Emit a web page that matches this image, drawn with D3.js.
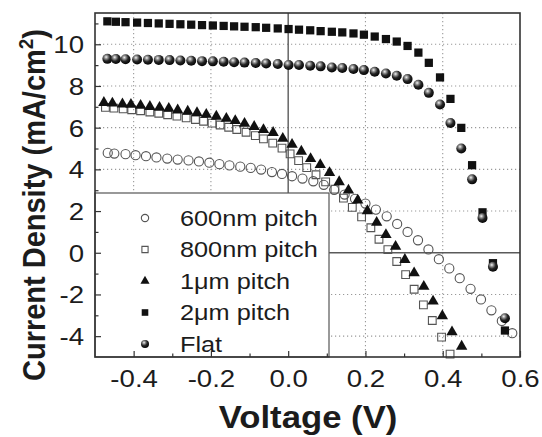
<!DOCTYPE html>
<html>
<head>
<meta charset="utf-8">
<script src="https://cdn.jsdelivr.net/npm/d3@7"></script>
<style>
body { margin: 0; background: #fff; }
text { font-family: "Liberation Sans", Arial, Helvetica, sans-serif; fill: #1c1c1c; }
</style>
</head>
<body>
<div id="chart"></div>
<script>
// voltage (V) and current density (mA/cm2), one pair per sample
var v600 = [-0.467,-0.450,-0.421,-0.395,-0.368,-0.341,-0.313,-0.286,-0.258,-0.231,
	-0.204,-0.178,-0.152,-0.124,-0.097,-0.070,-0.042,-0.016,0.010,0.037,
	0.065,0.092,0.119,0.146,0.173,0.200,0.227,0.255,0.282,0.309,
	0.336,0.363,0.390,0.417,0.444,0.472,0.499,0.526,0.553,0.580];
var j600 = [4.79,4.76,4.73,4.68,4.63,4.57,4.52,4.47,4.43,4.38,
	4.32,4.25,4.19,4.13,4.07,3.99,3.87,3.78,3.67,3.56,
	3.43,3.26,3.02,2.79,2.59,2.36,2.07,1.75,1.38,1.00,
	0.60,0.16,-0.31,-0.75,-1.22,-1.73,-2.24,-2.76,-3.27,-3.86];

var v800 = [-0.473,-0.451,-0.427,-0.405,-0.382,-0.358,-0.335,-0.312,-0.288,-0.264,
	-0.240,-0.219,-0.197,-0.176,-0.154,-0.133,-0.109,-0.085,-0.064,-0.040,
	-0.016,0.005,0.027,0.048,0.072,0.097,0.121,0.143,0.166,0.190,
	0.214,0.235,0.258,0.281,0.304,0.326,0.350,0.373,0.397,0.419];
var j800 = [6.97,6.94,6.90,6.86,6.81,6.75,6.69,6.62,6.55,6.47,
	6.39,6.31,6.22,6.13,6.02,5.91,5.78,5.62,5.46,5.26,
	5.02,4.74,4.42,4.08,3.74,3.40,3.05,2.62,2.18,1.72,
	1.20,0.65,0.15,-0.42,-1.05,-1.75,-2.50,-3.25,-4.05,-4.86];

var v1um = [-0.477,-0.455,-0.429,-0.407,-0.382,-0.358,-0.333,-0.309,-0.286,-0.260,
	-0.236,-0.212,-0.186,-0.160,-0.137,-0.113,-0.088,-0.064,-0.039,-0.014,
	0.010,0.034,0.058,0.083,0.107,0.132,0.156,0.180,0.205,0.229,
	0.253,0.278,0.302,0.326,0.351,0.375,0.399,0.424,0.449];
var j1um = [7.20,7.17,7.13,7.11,7.06,7.01,6.97,6.92,6.84,6.78,
	6.71,6.63,6.54,6.44,6.33,6.20,6.05,5.90,5.76,5.48,
	5.19,4.86,4.51,4.22,3.84,3.40,3.00,2.52,2.01,1.45,
	0.86,0.30,-0.33,-0.97,-1.62,-2.33,-3.03,-3.80,-4.49];

// 2um pitch and flat were swept on the same voltage steps
var vHigh = [-0.468,-0.446,-0.421,-0.391,-0.363,-0.335,-0.307,-0.279,-0.251,-0.223,
	-0.195,-0.167,-0.140,-0.113,-0.084,-0.057,-0.027,0.001,0.028,0.057,
	0.084,0.113,0.140,0.169,0.196,0.224,0.253,0.281,0.309,0.337,
	0.364,0.393,0.420,0.448,0.476,0.503,0.530,0.561];
var j2um = [11.10,11.08,11.06,11.04,11.02,11.00,10.98,10.96,10.94,10.92,
	10.90,10.88,10.86,10.84,10.82,10.79,10.76,10.73,10.70,10.67,
	10.63,10.60,10.57,10.52,10.46,10.37,10.25,10.13,9.92,9.60,
	9.11,8.41,7.38,5.99,4.20,1.94,-0.50,-3.73];
var jFlat = [9.30,9.29,9.28,9.27,9.26,9.25,9.24,9.22,9.21,9.19,
	9.18,9.16,9.14,9.12,9.10,9.08,9.05,9.01,9.01,8.97,
	8.94,8.89,8.86,8.81,8.76,8.68,8.60,8.49,8.33,8.06,
	7.67,7.11,6.22,5.00,3.52,1.67,-0.67,-3.14];

var seriesNames = ["600nm pitch", "800nm pitch", "1\u03bcm pitch", "2\u03bcm pitch", "Flat"];
var xMajor = [-0.4, -0.2, 0.0, 0.2, 0.4, 0.6],
	xMinor = [-0.3, -0.1, 0.1, 0.3, 0.5],
	yMajor = [-4, -2, 0, 2, 4, 6, 8, 10],
	yMinor = [-3, -1, 1, 3, 5, 7, 9, 11];

var W = 542, H = 437,
	pL = 95, pR = 520, pT = 13, pB = 357,
	stretch = 1.15;

var x = d3.scaleLinear().domain([-0.5, 0.6]).range([pL, pR]);
var y = d3.scaleLinear().domain([-5, 11.5]).range([pB, pT]);

var svg = d3.select("#chart").append("svg")
	.attr("width", W)
	.attr("height", H);

var defs = svg.append("defs");
var ball = defs.append("radialGradient")
	.attr("id", "ball")
	.attr("cx", "38%").attr("cy", "32%").attr("r", "65%");
ball.append("stop").attr("offset", "0%").attr("stop-color", "#f4f4f4");
ball.append("stop").attr("offset", "28%").attr("stop-color", "#8a8a8a");
ball.append("stop").attr("offset", "60%").attr("stop-color", "#262626");
ball.append("stop").attr("offset", "100%").attr("stop-color", "#080808");

// dotted grid
svg.append("g").selectAll("line")
	.data(xMajor.filter(function(d) { return d != 0 && d < 0.6; }))
	.enter().append("line")
	.attr("x1", function(d) { return x(d); }).attr("x2", function(d) { return x(d); })
	.attr("y1", pT).attr("y2", pB)
	.style("stroke", "#999").style("stroke-width", 1.1)
	.style("stroke-dasharray", "1.2,2.8");
svg.append("g").selectAll("line")
	.data(yMajor.filter(function(d) { return d != 0; }))
	.enter().append("line")
	.attr("x1", pL).attr("x2", pR)
	.attr("y1", function(d) { return y(d); }).attr("y2", function(d) { return y(d); })
	.style("stroke", "#999").style("stroke-width", 1.1)
	.style("stroke-dasharray", "1.2,2.8");

// zero lines
svg.append("line")
	.attr("x1", x(0)).attr("x2", x(0)).attr("y1", pT).attr("y2", pB)
	.style("stroke", "#5a5a5a").style("stroke-width", 1.4);
svg.append("line")
	.attr("x1", pL).attr("x2", pR).attr("y1", y(0)).attr("y2", y(0))
	.style("stroke", "#5a5a5a").style("stroke-width", 1.4);

function pairs(vs, js) {
	return vs.map(function(v, i) { return {v: v, j: js[i]}; });
}

var series = [
	{name: seriesNames[0], pts: pairs(v600, j600), shape: d3.symbolCircle, size: 66, fill: "none", stroke: "#555"},
	{name: seriesNames[1], pts: pairs(v800, j800), shape: d3.symbolSquare, size: 60, fill: "none", stroke: "#555"},
	{name: seriesNames[2], pts: pairs(v1um, j1um), shape: d3.symbolTriangle, size: 56, fill: "#111", stroke: "none"},
	{name: seriesNames[3], pts: pairs(vHigh, j2um), shape: d3.symbolSquare, size: 68, fill: "#111", stroke: "none"},
	{name: seriesNames[4], pts: pairs(vHigh, jFlat), shape: "ball", size: 5}
];

function drawMark(sel, s, scale) {
	if (s.shape == "ball") {
		sel.append("circle")
			.attr("r", s.size * scale)
			.style("fill", "url(#ball)");
	} else {
		sel.append("path")
			.attr("d", d3.symbol().type(s.shape).size(s.size * scale * scale)())
			.style("fill", s.fill)
			.style("stroke", s.stroke)
			.style("stroke-width", 1.1);
	}
}

series.forEach(function(s) {
	var g = svg.append("g").attr("class", "series");
	g.selectAll("g")
		.data(s.pts)
		.enter().append("g")
		.attr("transform", function(d) { return "translate(" + x(d.v) + "," + y(d.j) + ")"; })
		.each(function() { drawMark(d3.select(this), s, 1); });
});

// legend
var legend = svg.append("g");
legend.append("rect")
	.attr("x", pL).attr("y", 193)
	.attr("width", 234).attr("height", pB - 193)
	.style("fill", "#fff").style("stroke", "#555").style("stroke-width", 1.2);
var rows = legend.selectAll(".row")
	.data(series)
	.enter().append("g")
	.attr("class", "row")
	.attr("transform", function(d, i) { return "translate(145," + (218 + i * 31.5) + ")"; });
rows.each(function(s) { drawMark(d3.select(this), s, 0.8); });
rows.append("text")
	.attr("transform", "translate(35,0) scale(" + stretch + ",1)")
	.attr("dy", "0.36em")
	.style("font-size", "22px")
	.text(function(d) { return d.name; });

// frame
svg.append("rect")
	.attr("x", pL).attr("y", pT)
	.attr("width", pR - pL).attr("height", pB - pT)
	.style("fill", "none").style("stroke", "#333").style("stroke-width", 1.6);

// axes, ticks pointing inwards
var xAxis = svg.append("g")
	.attr("transform", "translate(0," + pB + ")")
	.call(d3.axisBottom(x).tickValues(xMajor).tickSizeInner(-6).tickSizeOuter(0)
		.tickFormat(function(d) { return d.toFixed(1); }));
svg.append("g")
	.attr("transform", "translate(0," + pB + ")")
	.call(d3.axisBottom(x).tickValues(xMinor).tickSizeInner(-3.5).tickSizeOuter(0).tickFormat(""));
var yAxis = svg.append("g")
	.attr("transform", "translate(" + pL + ",0)")
	.call(d3.axisLeft(y).tickValues(yMajor).tickSizeInner(-6).tickSizeOuter(0)
		.tickFormat(function(d) { return String(d); }));
svg.append("g")
	.attr("transform", "translate(" + pL + ",0)")
	.call(d3.axisLeft(y).tickValues(yMinor).tickSizeInner(-3.5).tickSizeOuter(0).tickFormat(""));

svg.selectAll(".domain").remove();
svg.selectAll(".tick line").style("stroke", "#333").style("stroke-width", 1.2);

xAxis.selectAll("text")
	.attr("y", 30).attr("dy", 0)
	.attr("transform", "scale(" + stretch + ",1)")
	.style("font-size", "24px");
yAxis.selectAll("text")
	.attr("x", -11 / stretch).attr("dy", "0.35em")
	.attr("transform", "scale(" + stretch + ",1)")
	.style("font-size", "24px");

// axis titles
svg.append("text")
	.attr("transform", "translate(308,428) scale(1.12,1)")
	.attr("text-anchor", "middle")
	.style("font-size", "31px").style("font-weight", "bold")
	.text("Voltage (V)");

var yt = svg.append("text")
	.attr("transform", "translate(45,205) rotate(-90) scale(1,1.1)")
	.attr("text-anchor", "middle")
	.style("font-size", "29px").style("font-weight", "bold");
yt.append("tspan").text("Current Density (mA/cm");
yt.append("tspan").attr("dy", -11).style("font-size", "19px").text("2");
yt.append("tspan").attr("dy", 11).text(")");
</script>
</body>
</html>
